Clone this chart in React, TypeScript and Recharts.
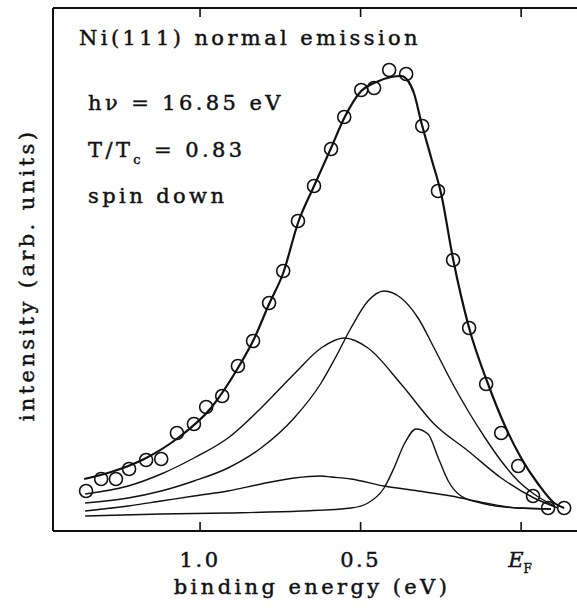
import React from "react";
import { ComposedChart, Line, Scatter, XAxis, YAxis } from "recharts";

// binding energy (eV) of each measured point, and its intensity (arb. units)
const pointEnergy = [1.355, 1.308, 1.262, 1.221, 1.168, 1.121, 1.072, 1.019, 0.981, 0.931, 0.882, 0.835, 0.785, 0.741, 0.695, 0.645, 0.592, 0.551, 0.498, 0.458, 0.411, 0.358, 0.308, 0.259, 0.212, 0.162, 0.109, 0.062, 0.009, -0.037, -0.084, -0.134];
const pointIntensity = [40, 52, 52, 62, 71, 72, 98, 107, 124, 135, 165, 190, 228, 260, 310, 345, 382, 414, 441, 443, 461, 457, 405, 340, 271, 203, 147, 98, 65, 35, 23, 23];

// total fit
const fitEnergy = [1.361, 1.277, 1.174, 1.069, 0.966, 0.882, 0.832, 0.785, 0.741, 0.695, 0.645, 0.592, 0.551, 0.498, 0.458, 0.405, 0.374, 0.352, 0.333, 0.312, 0.28, 0.249, 0.212, 0.162, 0.103, 0.053, 0.0, -0.053, -0.103, -0.134];
const fitIntensity = [52, 59, 72, 93, 123, 163, 192, 227, 258, 308, 345, 383, 413, 440, 448, 454, 455, 450, 437, 410, 373, 337, 272, 203, 147, 107, 73, 47, 28, 23];

// broad component
const broadEnergy = [1.358, 1.224, 1.121, 1.019, 0.913, 0.81, 0.707, 0.623, 0.551, 0.477, 0.374, 0.271, 0.165, 0.062, -0.04, -0.115];
const broadIntensity = [37, 45, 57, 73, 93, 123, 157, 183, 193, 183, 147, 107, 80, 53, 33, 23];

// main component
const mainEnergy = [1.358, 1.224, 1.121, 1.019, 0.913, 0.81, 0.707, 0.623, 0.579, 0.53, 0.477, 0.427, 0.374, 0.321, 0.271, 0.218, 0.165, 0.112, 0.062, 0.009, -0.04, -0.103];
const mainIntensity = [28, 33, 40, 50, 63, 83, 113, 148, 173, 203, 230, 240, 233, 213, 183, 150, 120, 93, 70, 50, 37, 25];

// weak broad bump
const bumpEnergy = [1.358, 1.224, 1.121, 1.019, 0.913, 0.81, 0.707, 0.623, 0.592, 0.53, 0.427, 0.321, 0.218, 0.112, 0.009, -0.093];
const bumpIntensity = [20, 25, 30, 35, 40, 47, 53, 55, 54, 52, 45, 40, 35, 28, 23, 22];

// narrow peak near EF
const narrowEnergy = [1.358, 1.121, 0.913, 0.685, 0.53, 0.477, 0.427, 0.396, 0.364, 0.327, 0.29, 0.258, 0.227, 0.187, 0.112, 0.009, -0.093];
const narrowIntensity = [15, 17, 18, 20, 23, 28, 43, 63, 87, 102, 97, 73, 50, 35, 27, 23, 22];

const energyTicks = [1.0, 0.5, 0.0];

const FONT = '"DejaVu Serif", serif';
const INK = "#111";

const toRows = (xs: number[], ys: number[]) => xs.map((x, i) => ({ x, y: ys[i] }));

const BottomTick = (props: any) => {
  const { x, y, payload } = props;
  return (
    <g>
      <line x1={x} x2={x} y1={y} y2={y - 9} stroke={INK} strokeWidth={1.6} />
      {payload.value === 0 ? (
        <text x={x - 13} y={y + 36} fontFamily={FONT} fontSize={21} fill={INK} stroke={INK} strokeWidth={0.45}>
          <tspan fontStyle="italic">E</tspan>
          <tspan dx={0} dy={6} fontSize={12}>F</tspan>
        </text>
      ) : (
        <text x={x} y={y + 36} textAnchor="middle" fontFamily={FONT} fontSize={21} fill={INK} stroke={INK} strokeWidth={0.45} letterSpacing={2.5}>
          {payload.value.toFixed(1)}
        </text>
      )}
    </g>
  );
};

const TopTick = (props: any) => {
  const { x, y } = props;
  return <line x1={x} x2={x} y1={y} y2={y + 9} stroke={INK} strokeWidth={1.6} />;
};

const Ring = (props: any) => {
  const { cx, cy } = props;
  return <circle cx={cx} cy={cy} r={6.5} fill="none" stroke={INK} strokeWidth={1.6} />;
};

const textStyle = { fontFamily: FONT, fontSize: 21, fill: INK, stroke: INK, strokeWidth: 0.45, letterSpacing: 3.4 } as const;

export default function App() {
  return (
    <div style={{ position: "absolute", left: 0, top: 0, width: 577, height: 611, background: "#fff" }}>
      <ComposedChart width={577} height={611} margin={{ top: 7, right: 0, bottom: 0, left: 52 }}>
        <XAxis
          xAxisId="bottom"
          type="number"
          dataKey="x"
          domain={[-0.174, 1.458]}
          reversed
          ticks={energyTicks}
          interval={0}
          height={80}
          tickSize={0}
          tickMargin={0}
          tickLine={false}
          tick={<BottomTick />}
          axisLine={{ stroke: INK, strokeWidth: 2 }}
          allowDataOverflow
        />
        <XAxis
          xAxisId="top"
          orientation="top"
          type="number"
          dataKey="x"
          domain={[-0.174, 1.458]}
          reversed
          ticks={energyTicks}
          interval={0}
          height={1}
          tickSize={0}
          tickMargin={0}
          tickLine={false}
          tick={<TopTick />}
          axisLine={{ stroke: INK, strokeWidth: 2 }}
          allowDataOverflow
        />
        <YAxis
          type="number"
          domain={[0, 523]}
          width={1}
          tick={false}
          tickLine={false}
          axisLine={{ stroke: INK, strokeWidth: 2 }}
          allowDataOverflow
        />
        <Line xAxisId="bottom" data={toRows(narrowEnergy, narrowIntensity)} dataKey="y" type="monotone" stroke={INK} strokeWidth={1.4} dot={false} isAnimationActive={false} />
        <Line xAxisId="bottom" data={toRows(bumpEnergy, bumpIntensity)} dataKey="y" type="monotone" stroke={INK} strokeWidth={1.4} dot={false} isAnimationActive={false} />
        <Line xAxisId="bottom" data={toRows(mainEnergy, mainIntensity)} dataKey="y" type="monotone" stroke={INK} strokeWidth={1.4} dot={false} isAnimationActive={false} />
        <Line xAxisId="bottom" data={toRows(broadEnergy, broadIntensity)} dataKey="y" type="monotone" stroke={INK} strokeWidth={1.4} dot={false} isAnimationActive={false} />
        <Line xAxisId="bottom" data={toRows(fitEnergy, fitIntensity)} dataKey="y" type="monotone" stroke={INK} strokeWidth={2.2} dot={false} isAnimationActive={false} />
        <Scatter xAxisId="bottom" data={toRows(pointEnergy, pointIntensity)} dataKey="y" shape={<Ring />} isAnimationActive={false} />
      </ComposedChart>
      <svg width={577} height={611} style={{ position: "absolute", left: 0, top: 0, pointerEvents: "none" }}>
        <text x={79} y={45} style={textStyle}>Ni(111) normal emission</text>
        <text x={88} y={110} style={textStyle}>hν = 16.85 eV</text>
        <text x={88} y={157} style={textStyle}>
          T/T<tspan dy={7} fontSize={13}>c</tspan>
          <tspan dy={-7}> = 0.83</tspan>
        </text>
        <text x={88} y={203} style={textStyle}>spin down</text>
        <text x={312} y={594} textAnchor="middle" style={textStyle}>binding energy (eV)</text>
        <text x={34} y={275} textAnchor="middle" transform="rotate(-90 34 275)" style={textStyle}>intensity (arb. units)</text>
      </svg>
    </div>
  );
}
